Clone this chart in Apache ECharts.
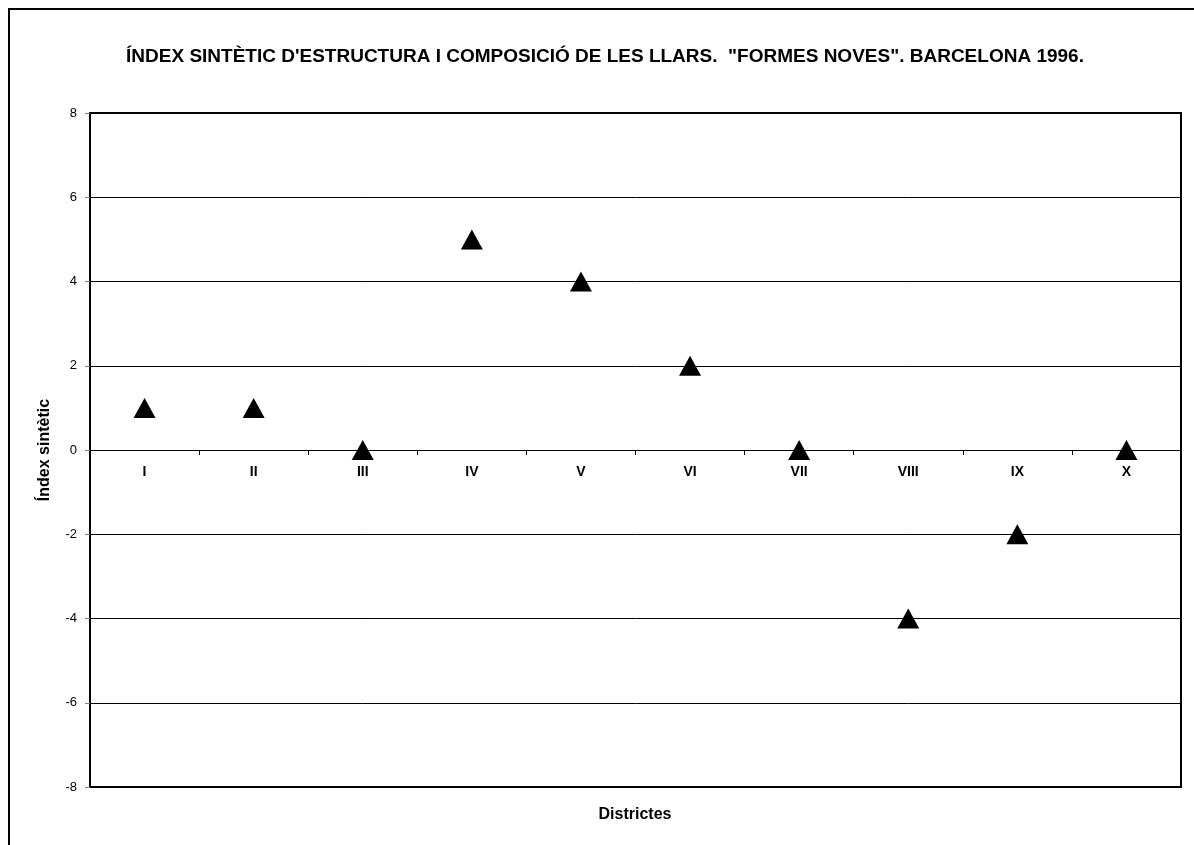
<!DOCTYPE html>
<html>
<head>
<meta charset="utf-8">
<script src="https://cdn.jsdelivr.net/npm/echarts@6/dist/echarts.min.js"></script>
<style>html,body{margin:0;padding:0;background:#fff;}#c{width:1194px;height:845px;}</style>
</head>
<body>
<div id="c"></div>
<script>
const titleText = 'ÍNDEX SINTÈTIC D\'ESTRUCTURA I COMPOSICIÓ DE LES LLARS.  "FORMES NOVES". BARCELONA 1996.';
const districts = ['I','II','III','IV','V','VI','VII','VIII','IX','X'];
const indexValues = [1, 1, 0, 5, 4, 2, 0, -4, -2, 0];
const yTicks = {min: -8, max: 8, interval: 2};
const yName = 'Índex sintètic';
const xName = 'Districtes';

const font = 'Arial, "Liberation Sans", sans-serif';
const gridTop = 113, gridBottom = 58, H = 845;
const plotH = H - gridTop - gridBottom;
// shift x axis up to the zero line
const zeroOffset = -plotH * (0 - yTicks.min) / (yTicks.max - yTicks.min);

const chart = echarts.init(document.getElementById('c'), null, {renderer: 'canvas'});
chart.setOption({
  backgroundColor: '#fff',
  animation: false,
  title: {
    text: titleText,
    left: 600,
    textAlign: 'center',
    top: 42,
    textStyle: {fontFamily: font, fontSize: 19, fontWeight: 'bold', color: '#000'}
  },
  grid: {left: 90, right: 13, top: gridTop, bottom: gridBottom, show: true, borderColor: '#000', borderWidth: 2, backgroundColor: 'transparent'},
  xAxis: {
    type: 'category',
    data: districts,
    boundaryGap: true,
    offset: zeroOffset,
    axisLine: {onZero: false, lineStyle: {color: '#000', width: 1}},
    axisTick: {show: true, length: 5, lineStyle: {color: '#000'}},
    axisLabel: {fontFamily: font, fontSize: 14, fontWeight: 'bold', color: '#000', margin: 15},
    splitLine: {show: false}
  },
  yAxis: {
    type: 'value',
    min: yTicks.min, max: yTicks.max, interval: yTicks.interval,
    name: yName,
    nameLocation: 'middle',
    nameGap: 37,
    nameTextStyle: {fontFamily: font, fontSize: 16, fontWeight: 'bold', color: '#000'},
    axisLine: {show: true, lineStyle: {color: '#000', width: 2}},
    axisTick: {show: true, length: 5, lineStyle: {color: '#808080'}},
    axisLabel: {fontFamily: font, fontSize: 13, color: '#000', margin: 13},
    splitLine: {show: true, lineStyle: {color: '#000', width: 1}}
  },
  graphic: [
    {type: 'rect', silent: true, z: -10, shape: {x: 9, y: 9, width: 1220, height: 900}, style: {fill: 'none', stroke: '#000', lineWidth: 2}},
    {type: 'text', x: 635, y: 815, style: {text: xName, font: 'bold 16px ' + font, fill: '#000', textAlign: 'center', textVerticalAlign: 'middle'}}
  ],
  series: [{
    type: 'scatter',
    data: indexValues,
    symbol: 'triangle',
    symbolSize: [22, 20],
    itemStyle: {color: '#000', opacity: 1},
    z: 5
  }]
});
</script>
</body>
</html>
